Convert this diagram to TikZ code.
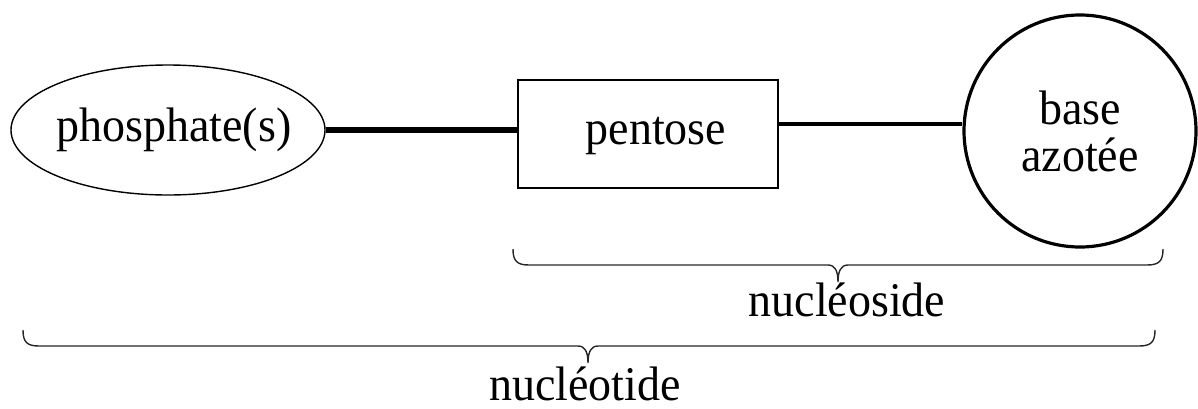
\documentclass[tikz,border=0pt]{standalone}
\usepackage{fontspec}
\setmainfont[FakeStretch=0.95]{Liberation Serif}
\usetikzlibrary{shapes.geometric,calc}

% curly brace opening downwards: #1 left tip, #2 right tip, #3 point above the cusp
\newcommand\bracebelow[3]{%
  \draw[bracesty] (#1) .. controls ($(#1)+(0,12)$) and ($(#1)+(4,16)$) .. ($(#1)+(16,16)$)
    -- ($(#3)+(-10,16)$) .. controls ($(#3)+(-3,16)$) and ($(#3)+(0,22)$) .. ($(#3)+(0,33)$)
    .. controls ($(#3)+(0,22)$) and ($(#3)+(3,16)$) .. ($(#3)+(10,16)$)
    -- ($(#2)+(-16,16)$) .. controls ($(#2)+(-4,16)$) and ($(#2)+(0,12)$) .. (#2);}

\begin{document}
\begin{tikzpicture}[x=0.5pt,y=-0.5pt,
  txt/.style={font=\fontsize{24.2}{23.5}\selectfont,inner sep=1pt},
  ovalsty/.style={ellipse,draw,line width=0.7pt,inner sep=0pt,
    minimum width=157pt,minimum height=65pt},
  boxsty/.style={rectangle,draw,line width=1pt,inner sep=0pt,
    minimum width=130pt,minimum height=54pt},
  ballsty/.style={circle,draw,line width=1.6pt,inner sep=0pt,
    minimum size=116pt,txt,align=center},
  bondthick/.style={line width=3pt},
  bondthin/.style={line width=2pt},
  bracesty/.style={line width=0.7pt,black!85},
  ]
  \useasboundingbox (0,0) rectangle (1198,408);

  % molecular parts
  \node[ovalsty,label={[txt,xshift=3pt]center:phosphate(s)}] (phos) at (168,130) {};
  \node[boxsty,label={[txt,xshift=4pt,yshift=-1pt]center:pentose}] (pent) at (648,134) {};
  \node[ballsty] (base) at (1080,131) {base\\azotée};

  % bonds
  \draw[bondthick] (phos.east) -- (phos.east -| pent.west);
  \draw[bondthin] ([yshift=5pt]pent.east) -- ([yshift=5pt]pent.east -| base.west);

  % nucleoside brace
  \coordinate (nsL) at (513,249);
  \coordinate (nsR) at (1163,249);
  \coordinate (nsC) at (838,249);
  \bracebelow{nsL}{nsR}{nsC}
  \node[txt,anchor=base] (nslabel) at (847,316) {nucléoside};

  % nucleotide brace
  \coordinate (ntL) at (23,330);
  \coordinate (ntR) at (1155,330);
  \coordinate (ntC) at (588,330);
  \bracebelow{ntL}{ntR}{ntC}
  \node[txt,anchor=base] (ntlabel) at (585,400) {nucléotide};
\end{tikzpicture}
\end{document}
